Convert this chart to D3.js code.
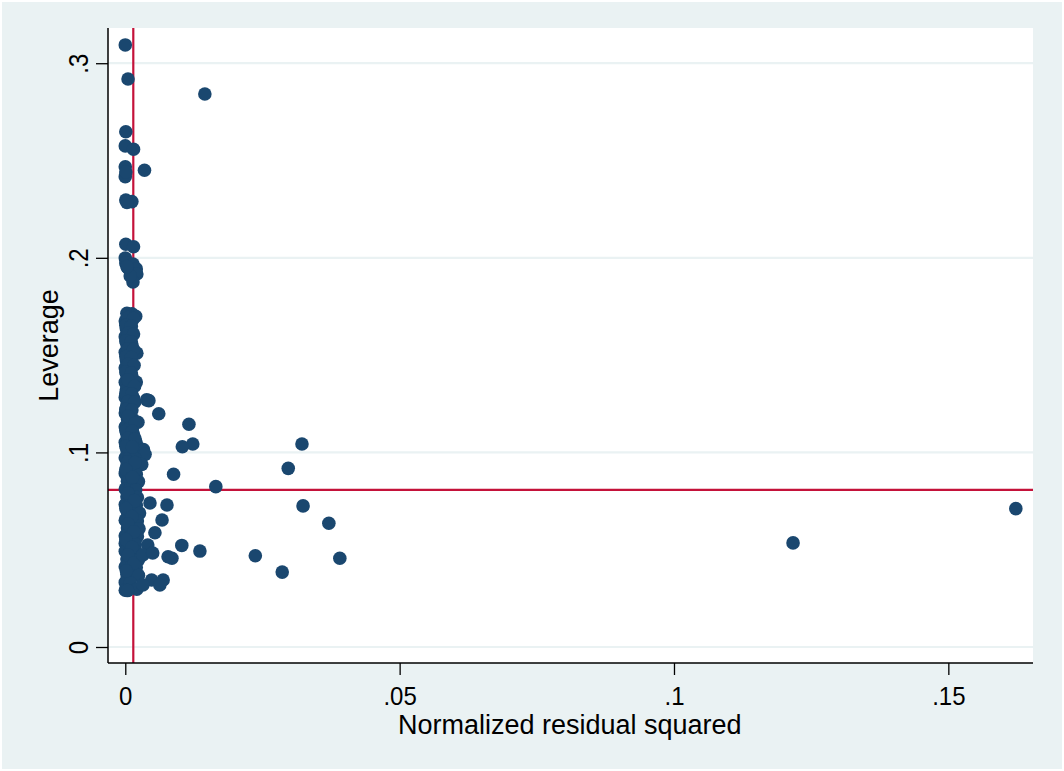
<!DOCTYPE html>
<html>
<head>
<meta charset="utf-8">
<script src="https://cdn.jsdelivr.net/npm/d3@7"></script>
<style>
  html, body { margin: 0; padding: 0; background: #ffffff; }
  svg { display: block; }
  text { font-family: "Liberation Sans", Arial, sans-serif; fill: #000; }
</style>
</head>
<body>
<script>
// Leverage versus normalized residual squared (lvr2plot style)

const xTicks = [0, 0.05, 0.1, 0.15];
const xTickLabels = ["0", ".05", ".1", ".15"];
const yTicks = [0, 0.1, 0.2, 0.3];
const yTickLabels = ["0", ".1", ".2", ".3"];
const xTitle = "Normalized residual squared";
const yTitle = "Leverage";

// reference lines: mean normalized residual squared, mean leverage
const meanResidSq = 0.00146;
const meanLeverage = 0.0807;

// normalized residual squared for each observation
const residSq = [
  // high-leverage group
  0.0000, 0.0005, 0.0145, 0.0001, 0.0000, 0.0015, 0.0035, 0.0000, 0.0000, 0.0001,
  0.0001, 0.0012, 0.0003, 0.0001, 0.0015,
  0.0000, 0.0001, 0.0005, 0.0014, 0.0020, 0.0021, 0.0014, 0.0009, 0.0003,
  // main column
  0.0003, 0.0012, 0.0019, 0.0000, 0.0008, 0.0002, 0.0010, 0.0000, 0.0006, 0.0003,
  0.0012, 0.0000, 0.0007, 0.0021, 0.0002, 0.0010, 0.0000, 0.0006, 0.0003, 0.0012,
  0.0000, 0.0008, 0.0020, 0.0002, 0.0011, 0.0000, 0.0007, 0.0015, 0.0003, 0.0012,
  0.0000, 0.0008, 0.0004, 0.0014, 0.0023, 0.0000, 0.0009, 0.0003, 0.0015, 0.0000,
  0.0008, 0.0020, 0.0003, 0.0012, 0.0033, 0.0036, 0.0000, 0.0007, 0.0018, 0.0003,
  0.0013, 0.0030, 0.0000, 0.0009, 0.0020, 0.0004, 0.0014, 0.0024, 0.0000, 0.0009,
  0.0019, 0.0003, 0.0013, 0.0022, 0.0000, 0.0008, 0.0020, 0.0004, 0.0014, 0.0026,
  0.0000, 0.0010, 0.0022, 0.0004, 0.0014, 0.0025, 0.0000, 0.0010, 0.0022, 0.0000,
  0.0008, 0.0018, 0.0000, 0.0009, 0.0020, 0.0003, 0.0013, 0.0024, 0.0000, 0.0010,
  0.0020, 0.0003, 0.0012, 0.0024, 0.0000, 0.0009, 0.0021, 0.0000, 0.0004,
  // fill within the column
  0.0005, 0.0015, 0.0001, 0.0011, 0.0005, 0.0015, 0.0001, 0.0011, 0.0005, 0.0015,
  0.0001, 0.0011, 0.0005, 0.0016, 0.0001, 0.0011, 0.0005, 0.0017, 0.0001, 0.0012,
  0.0005, 0.0017, 0.0001, 0.0012, 0.0005, 0.0018, 0.0001, 0.0013, 0.0005, 0.0018,
  0.0001, 0.0013, 0.0005, 0.0018, 0.0001, 0.0013, 0.0005, 0.0017, 0.0001, 0.0012,
  0.0005, 0.0016, 0.0001, 0.0012, 0.0005, 0.0016, 0.0002,
  // scattered to the right of the column
  0.0039, 0.0043, 0.0061, 0.0116, 0.0123, 0.0104, 0.0088, 0.0045, 0.0076, 0.0067,
  0.0054, 0.0041, 0.0103, 0.0136, 0.0032, 0.0050, 0.0078, 0.0085, 0.0048, 0.0069,
  0.0063, 0.0032, 0.0165,
  // outlying residuals
  0.0322, 0.0297, 0.0324, 0.0371, 0.0237, 0.0391, 0.0286, 0.1217, 0.1623
];

// leverage for each observation, same order
const leverage = [
  0.3094, 0.2919, 0.2842, 0.2648, 0.2575, 0.2558, 0.2450, 0.2468, 0.2417, 0.2441,
  0.2297, 0.2289, 0.2285, 0.2070, 0.2057,
  0.1999, 0.1974, 0.1948, 0.1968, 0.1943, 0.1917, 0.1876, 0.1907, 0.1955,
  0.1715, 0.1712, 0.1700, 0.1675, 0.1670, 0.1635, 0.1630, 0.1595, 0.1590, 0.1555,
  0.1550, 0.1515, 0.1510, 0.1510, 0.1475, 0.1470, 0.1435, 0.1430, 0.1395, 0.1390,
  0.1360, 0.1358, 0.1362, 0.1322, 0.1320, 0.1282, 0.1280, 0.1278, 0.1242, 0.1240,
  0.1202, 0.1200, 0.1172, 0.1170, 0.1155, 0.1132, 0.1130, 0.1092, 0.1090, 0.1052,
  0.1050, 0.1048, 0.1012, 0.1010, 0.1015, 0.0990, 0.0972, 0.0970, 0.0968, 0.0932,
  0.0930, 0.0938, 0.0892, 0.0890, 0.0888, 0.0852, 0.0850, 0.0850, 0.0812, 0.0810,
  0.0808, 0.0772, 0.0770, 0.0768, 0.0732, 0.0730, 0.0728, 0.0692, 0.0690, 0.0688,
  0.0652, 0.0650, 0.0648, 0.0612, 0.0610, 0.0608, 0.0572, 0.0570, 0.0568, 0.0532,
  0.0530, 0.0528, 0.0492, 0.0490, 0.0488, 0.0452, 0.0450, 0.0448, 0.0412, 0.0410,
  0.0408, 0.0372, 0.0370, 0.0368, 0.0332, 0.0330, 0.0297, 0.0292, 0.0290,
  0.1693, 0.1688, 0.1653, 0.1648, 0.1613, 0.1608, 0.1573, 0.1568, 0.1533, 0.1528,
  0.1493, 0.1488, 0.1453, 0.1448, 0.1413, 0.1408, 0.1373, 0.1340, 0.1302, 0.1300,
  0.1262, 0.1258, 0.1222, 0.1218, 0.1186, 0.1150, 0.1112, 0.1108, 0.1072, 0.1068,
  0.1032, 0.1028, 0.0952, 0.0948, 0.0912, 0.0872, 0.0790, 0.0752, 0.0712, 0.0670,
  0.0632, 0.0592, 0.0552, 0.0512, 0.0472, 0.0432, 0.0392,
  0.1270, 0.1266, 0.1199, 0.1145, 0.1043, 0.1029, 0.0888, 0.0740, 0.0730, 0.0653,
  0.0587, 0.0524, 0.0522, 0.0493, 0.0473, 0.0483, 0.0464, 0.0456, 0.0344, 0.0344,
  0.0319, 0.0319, 0.0824,
  0.1043, 0.0918, 0.0725, 0.0636, 0.0469, 0.0456, 0.0385, 0.0535, 0.0711
];

const W = 1064, H = 771;
const plot = { left: 108, right: 1033, top: 28, bottom: 663 };

const colors = {
  outer: "#eaf2f3",
  grid: "#eaf2f3",
  marker: "#1a476f",
  refLine: "#c4123a"
};

const svg = d3.select("body").append("svg")
  .attr("width", W).attr("height", H);

// outer graph region
svg.append("rect")
  .attr("x", 2).attr("y", 2).attr("width", W - 4).attr("height", H - 4)
  .attr("fill", colors.outer);

// plot region
svg.append("rect")
  .attr("x", plot.left).attr("y", plot.top)
  .attr("width", plot.right - plot.left).attr("height", plot.bottom - plot.top)
  .attr("fill", "#ffffff");

const x = d3.scaleLinear().domain([-0.00315, 0.16543]).range([plot.left, plot.right]);
const y = d3.scaleLinear().domain([-0.00822, 0.3181]).range([plot.bottom, plot.top]);

// horizontal grid lines
svg.append("g").selectAll("line").data(yTicks).join("line")
  .attr("x1", plot.left).attr("x2", plot.right)
  .attr("y1", d => y(d)).attr("y2", d => y(d))
  .attr("stroke", colors.grid).attr("stroke-width", 2.2);

// reference lines
svg.append("line")
  .attr("x1", x(meanResidSq)).attr("x2", x(meanResidSq))
  .attr("y1", plot.top).attr("y2", plot.bottom)
  .attr("stroke", colors.refLine).attr("stroke-width", 2.2);
svg.append("line")
  .attr("x1", plot.left).attr("x2", plot.right)
  .attr("y1", y(meanLeverage)).attr("y2", y(meanLeverage))
  .attr("stroke", colors.refLine).attr("stroke-width", 2.2);

// markers
const points = residSq.map((r, i) => ({ r, h: leverage[i] }));
svg.append("g").selectAll("circle").data(points).join("circle")
  .attr("cx", d => x(d.r)).attr("cy", d => y(d.h))
  .attr("r", 6.8)
  .attr("fill", colors.marker);

// x axis
const xAxis = d3.axisBottom(x)
  .tickValues(xTicks)
  .tickSize(12)
  .tickPadding(0)
  .tickFormat((d, i) => xTickLabels[i]);
const gx = svg.append("g").attr("transform", `translate(0,${plot.bottom})`).call(xAxis);
gx.select(".domain").attr("d", `M${plot.left},0H${plot.right}`).attr("stroke", "#000").attr("stroke-width", 1.5);
gx.selectAll(".tick line").attr("stroke", "#000").attr("stroke-width", 1.3);
gx.selectAll(".tick text")
  .attr("font-size", 24).attr("y", 0).attr("dy", null)
  .attr("transform", "translate(0,42) scale(1,1.1)")
  .attr("font-family", "Liberation Sans, Arial, sans-serif");

// y axis
const yAxis = d3.axisLeft(y)
  .tickValues(yTicks)
  .tickSize(12)
  .tickPadding(0)
  .tickFormat((d, i) => yTickLabels[i]);
const gy = svg.append("g").attr("transform", `translate(${plot.left},0)`).call(yAxis);
gy.select(".domain").attr("d", `M0,${plot.top}V${plot.bottom}`).attr("stroke", "#000").attr("stroke-width", 1.5);
gy.selectAll(".tick line").attr("stroke", "#000").attr("stroke-width", 1.3);
gy.selectAll(".tick text")
  .attr("font-size", 24).attr("x", 0).attr("y", 0).attr("dy", null)
  .attr("text-anchor", "middle")
  .attr("transform", "translate(-20,0) rotate(-90) scale(1,1.12)")
  .attr("font-family", "Liberation Sans, Arial, sans-serif");

// axis titles
svg.append("text")
  .attr("x", (x(0) + x(0.15)) / 2 + 33).attr("y", 734)
  .attr("text-anchor", "middle").attr("font-size", 27)
  .text(xTitle);

svg.append("text")
  .attr("transform", `translate(58,${(plot.top + plot.bottom) / 2}) rotate(-90)`)
  .attr("text-anchor", "middle").attr("font-size", 27)
  .text(yTitle);
</script>
</body>
</html>
